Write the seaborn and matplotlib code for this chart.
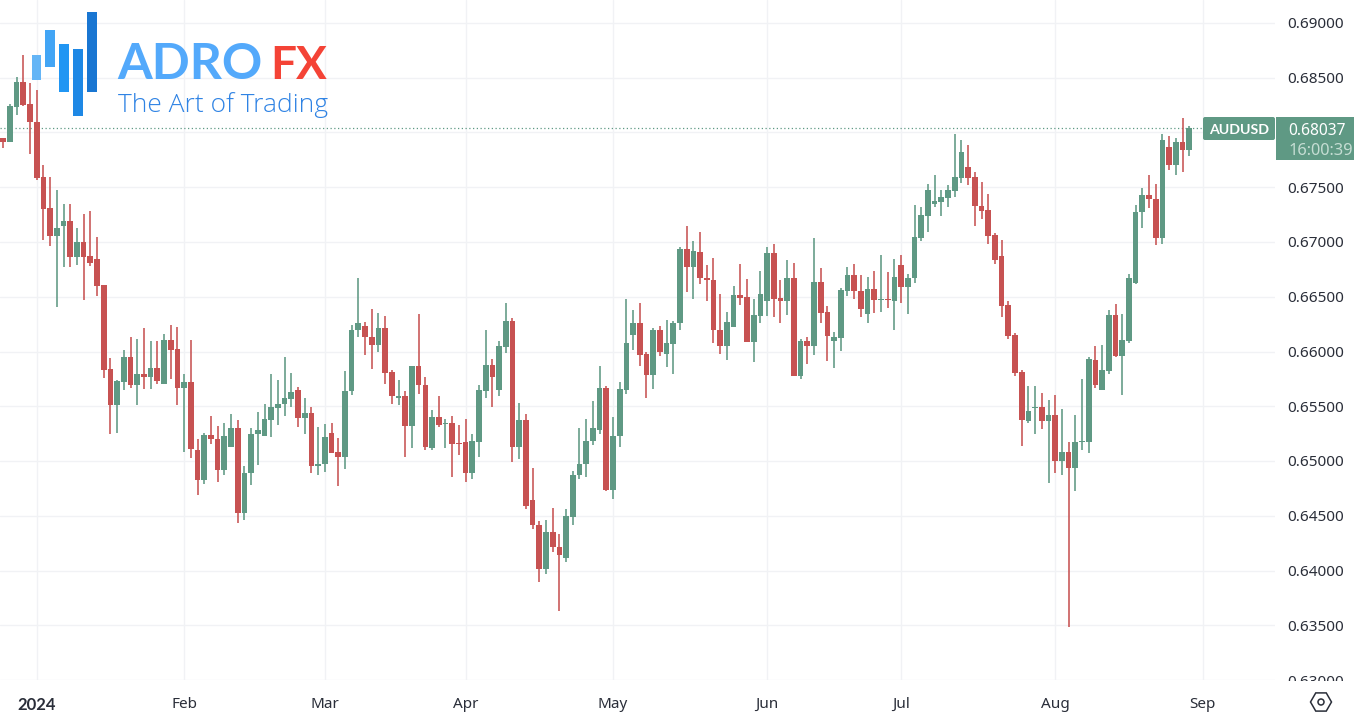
import numpy as np
import pandas as pd
import matplotlib
matplotlib.use("Agg")
import matplotlib.pyplot as plt
from matplotlib.patches import Rectangle, FancyBboxPatch, RegularPolygon, Circle
from matplotlib.transforms import Affine2D, Bbox
import seaborn as sns

# Prices in 1/100000 units, one entry per trading day
opens = [67950,67911,68234,68459,68258,68097,67591,67308,67052,67144,67189,66861,66998,66870,66842,66605,65838,65509,65722,65947,65692,65792,65765,65847,65701,66103,66021,65664,65719,65101,64824,65235,65205,64916,65126,65305,64523,64888,65244,65226,65372,65482,65518,65564,65646,
         65394,65436,64955,64973,65260,65080,65034,65640,66194,66234,66136,66060,66212,65811,65576,65591,65320,65865,65698,65123,65400,65342,65345,65162,65171,64891,65171,65643,65874,65646,66039,66279,65126,65372,64648,64419,64012,64356,64215,64112,64486,64870,64973,
         65181,65287,65665,64733,65226,65647,66149,66258,65975,65787,66198,65975,66073,66261,66934,66776,66907,66669,66651,66198,66051,66222,66514,66496,66091,66322,66459,66898,66487,66465,66669,65780,66094,66054,66633,66359,66097,66121,66554,66697,66551,66341,66569,
         66471,66483,66459,66788,66590,66669,67034,67235,67345,67363,67400,67464,67582,67683,67591,67333,67290,67062,66870,66423,66149,65811,65369,65485,65491,65369,65418,65004,65080,64934,65175,65171,65926,65646,65823,66337,65957,66094,66630,67272,67433,67391,67034,67865,67704,67911,67838]
closes = [67914,68240,68459,68249,68097,67582,67302,67052,67125,67189,66861,66998,66861,66809,66596,65829,65509,65728,65947,65692,65792,65765,65847,65728,66103,66011,65664,65719,65107,64824,65235,65199,64916,65226,65305,64523,64894,65244,65281,65381,65491,65518,65573,65628,65390,
          65436,64955,64973,65223,65074,65034,65640,66194,66258,66130,66060,66212,65807,65594,65591,65320,65865,65692,65129,65400,65327,65348,65156,65156,64891,65180,65646,65874,65765,66048,66279,65126,65372,64587,64413,64012,64356,64212,64139,64495,64876,64976,65187,
          65305,65665,64733,65226,65656,66076,66258,65969,65787,66198,65991,66076,66261,66934,66776,66916,66669,66651,66195,66054,66268,66514,66487,66091,66331,66523,66898,66484,66465,66669,65780,66094,66054,66633,66350,66137,66131,66560,66697,66548,66386,66569,66468,
          66483,66468,66678,66590,66669,67044,67244,67473,67372,67409,67476,67591,67826,67582,67327,67281,67053,66840,66413,66139,65805,65372,65455,65494,65369,65418,65004,65080,64934,65171,65184,65929,65692,65829,66337,65957,66103,66669,67272,67433,67391,67034,67929,67701,67911,67838,68037]
highs = [67950,68264,68507,68705,68456,68386,67701,67597,67476,67345,67345,67125,67253,67287,67043,66611,65944,65744,66011,66136,66118,66212,66094,66094,66158,66240,66221,65792,66103,65202,65253,65409,65317,65345,65433,65372,64958,65299,65451,65518,65792,65737,65947,65804,65674,
         65579,65497,65308,65342,65351,65208,65820,66240,66672,66267,66386,66349,66322,65829,65744,65640,65865,66340,65765,65470,65591,65387,65412,65330,65387,65244,65698,66194,65929,66097,66447,66310,65534,65433,64934,64450,64462,64569,64331,64559,64906,65299,65387,
         65546,65869,65683,65400,65725,66478,66383,66441,65991,66213,66231,66286,66277,66952,67144,67007,67089,66788,66852,66529,66359,66596,66797,66660,66478,66733,66952,66980,66651,66837,66812,66112,66134,67041,66758,66414,66176,66578,66776,66797,66697,66678,66733,
         66885,66724,66843,66885,66706,67336,67317,67528,67610,67479,67518,67984,67932,67884,67643,67546,67436,67086,67022,66459,66167,65829,65683,65683,65622,65558,65601,65473,65171,65418,65747,65948,66054,66057,66383,66432,66340,66712,67336,67491,67610,67528,67984,67966,67948,68130,68057]
lows = [67859,67911,68157,68240,67807,67570,67016,66964,66407,66772,66772,66788,66471,66778,66505,65759,65247,65256,65649,65667,65512,65658,65658,65701,65701,65747,65512,65083,65025,64690,64791,65159,64806,64870,65126,64432,64459,64779,64961,65226,65217,65326,65409,65491,65308,
        65247,64891,64873,64900,65074,64773,64925,65604,66136,65969,65841,65996,65701,65518,65509,65037,65120,65610,65101,65101,65308,65120,64855,65053,64809,64833,65034,65579,65494,65594,65984,64989,65016,64562,64380,63893,63966,64167,63631,64075,64413,64833,64855,
        65147,65251,64730,64654,65126,65616,66018,65869,65577,65656,65957,65857,65793,66195,66541,66484,66615,66462,66076,65975,65921,66222,66423,66091,65905,66258,66322,66313,66258,66334,65780,65747,65884,65969,66258,65911,65847,66003,66505,66478,66319,66258,66350,
        66359,66401,66200,66441,66340,66627,67010,67089,67317,67235,67317,67409,67537,67518,67144,67208,66980,66797,66313,66115,65774,65135,65345,65245,65290,64800,64888,64870,63482,64724,65098,65071,65665,65646,65792,65948,65601,66076,66614,67126,67308,66970,66980,67661,67616,67640,67783]

price_ticks = [0.63, 0.635, 0.64, 0.645, 0.65, 0.655, 0.66, 0.665, 0.67, 0.675, 0.68, 0.685, 0.69]
hidden_price_tick = 0.68   # its label sits behind the last-price tag
month_labels = ["2024", "Feb", "Mar", "Apr", "May", "Jun", "Jul", "Aug", "Sep"]
month_index = [5, 27, 48, 69, 91, 114, 134, 157, 179]
symbol = "AUDUSD"
last_price = 0.68037
countdown = "16:00:39"

GREEN = "#5f9984"
RED = "#c75252"
GRID = "#f1f2f5"
TEXT = "#2a2e39"
FONT = "Noto Sans"

sns.set_theme(style="white")
plt.rcParams["font.family"] = [FONT, "DejaVu Sans"]

W, H = 1356, 724
fig = plt.figure(figsize=(W / 100, H / 100), dpi=100, facecolor="white")
ax = fig.add_axes([0, 1 - 680 / H, 1275 / W, 680 / H])

df = pd.DataFrame({"day": np.arange(len(opens)), "open": np.array(opens) / 1e5,
                   "close": np.array(closes) / 1e5, "high": np.array(highs) / 1e5,
                   "low": np.array(lows) / 1e5})
df["up"] = df["close"] >= df["open"]
df["body"] = (df["close"] - df["open"]).abs()
df["base"] = df[["open", "close"]].min(axis=1)

for up, col in [(True, GREEN), (False, RED)]:
    sub = df[df["up"] == up].sort_values("day")
    ax.vlines(sub["day"], sub["low"], sub["high"], color=col, lw=1.15, zorder=3)
    sns.barplot(data=sub, x="day", y="body", bottom=sub["base"].to_numpy(), native_scale=True,
                color=col, saturation=1, width=0.85, errorbar=None, linewidth=0, ax=ax, zorder=4)

ax.set_xlim(-0.478, 189.8)
ax.set_ylim(0.63, 0.69 + 23 / 10950)
ax.set_xlabel("")
ax.set_ylabel("")
ax.set_xticks(month_index, month_labels)
ax.yaxis.tick_right()
ax.set_yticks(price_ticks, ["" if p == hidden_price_tick else f"{p:.5f}" for p in price_ticks])
ax.grid(True, color=GRID, lw=1.0, zorder=0)
ax.set_axisbelow(True)
ax.tick_params(axis="x", length=0, pad=12, labelsize=11, labelcolor=TEXT)
ax.tick_params(axis="y", length=0, pad=9, labelsize=11, labelcolor=TEXT)
first = ax.get_xticklabels()[0]
first.set_fontfamily("Lato")
first.set_fontweight("bold")
first.set_fontsize(12)
for lab in ax.get_yticklabels():
    lab.set_clip_box(Bbox([[1276, H - 681], [W, H]]))
    lab.set_clip_on(True)
sns.despine(ax=ax, left=True, bottom=True, top=True, right=True)

# current price line
ax.hlines(last_price, -0.478, 179, color=GREEN, lw=0.9, linestyles=(0, (1, 2)), zorder=2)

# overlays in pixel coordinates measured from the top-left
px = Affine2D().scale(1, -1).translate(0, H)

def rect(x0, y0, x1, y1, col, z=6):
    fig.add_artist(Rectangle((x0, y0), x1 - x0, y1 - y0, transform=px, fc=col, ec="none", zorder=z))

fig.add_artist(FancyBboxPatch((1205, 119), 68, 19, boxstyle="round,pad=2,rounding_size=2",
                              transform=px, fc=GREEN, ec="none", zorder=6))
rect(1276, 117, 1354, 160, GREEN)
fig.text(1209, 129, symbol, transform=px, color="white", fontsize=10.2, fontfamily="Lato",
         fontweight="bold", ha="left", va="center_baseline", zorder=7)
fig.text(1288, 129, f"{last_price:.5f}", transform=px, color="white", fontsize=11.2,
         ha="left", va="center_baseline", zorder=7)
fig.text(1288, 149, countdown, transform=px, color="#c5ddd3", fontsize=11.8,
         ha="left", va="center_baseline", zorder=7)

# settings icon
fig.add_artist(RegularPolygon((1321, 702), 6, radius=10.5, orientation=np.pi / 2, transform=px,
                              fc="none", ec=TEXT, lw=1.1, zorder=7))
fig.add_artist(Circle((1321, 702), 3, transform=px, fc="none", ec=TEXT, lw=1.1, zorder=7))

# logo
rect(32, 55, 41, 80, "#64b5f6")
rect(45.3, 30, 54.7, 67, "#42a5f5")
rect(59.3, 44, 68.7, 92, "#2196f3")
rect(73.3, 49, 82.7, 116, "#1e88e5")
rect(87.3, 12, 96.7, 92, "#1976d2")
fig.text(117, 79, "ADRO", transform=px, color="#53a9fb", fontsize=36, fontfamily="Lato",
         fontweight="bold", ha="left", va="baseline", zorder=7)
fig.text(270, 79, "FX", transform=px, color="#f44336", fontsize=33, fontfamily="Lato",
         fontweight="bold", ha="left", va="baseline", zorder=7)
fig.text(118, 112, "The Art of Trading", transform=px, color="#2f83e4", fontsize=19,
         fontfamily="Open Sans", fontweight="light", ha="left", va="baseline", zorder=7)

fig.savefig("out.png", dpi=100, facecolor="white")
